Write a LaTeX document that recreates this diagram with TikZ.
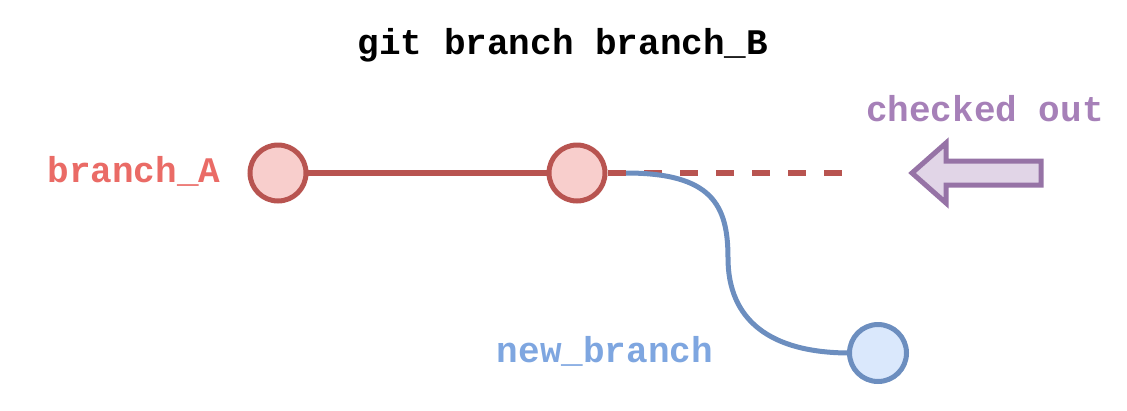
\documentclass[tikz,border=0pt]{standalone}
\usepackage{fontspec}
\setmonofont{Liberation Mono}
\definecolor{redS}{HTML}{B85450}
\definecolor{redF}{HTML}{F8CECC}
\definecolor{redT}{HTML}{EA6B66}
\definecolor{bluS}{HTML}{6C8EBF}
\definecolor{bluF}{HTML}{DAE8FC}
\definecolor{bluT}{HTML}{7EA6E0}
\definecolor{purS}{HTML}{9673A6}
\definecolor{purF}{HTML}{E1D5E7}
\definecolor{purT}{HTML}{A680B8}
\tikzset{
  lbl/.style={font=\ttfamily\bfseries\fontsize{36}{36}\selectfont, inner sep=0pt},
  commitR/.style={circle, draw=redS, fill=redF, line width=5pt, minimum size=56pt, inner sep=0pt},
  commitB/.style={circle, draw=bluS, fill=bluF, line width=5pt, minimum size=57pt, inner sep=0pt},
}
\begin{document}
\begin{tikzpicture}[x=1pt,y=-1pt]
\useasboundingbox (0,0) rectangle (1127,410);
\node[lbl] (title) at (563,45) {git branch branch\_B};
\node[lbl, text=redT] (la) at (134,171) {branch\_A};
\node[lbl, text=purT] (lc) at (985,109) {checked out};
\node[lbl, text=bluT] (lb) at (605,351) {new\_branch};
\coordinate (dstart) at (608,173);
\coordinate (dend) at (842,173);
\coordinate (bstart) at (626,173);
\draw[redS, line width=5.5pt] (278,173) -- (577,173);
\draw[redS, line width=5.5pt, dash pattern=on 18pt off 18pt] (dstart) -- (dend);
\draw[bluS, line width=5pt] (bstart) .. controls (712,173) and (728,205) .. (728,258)
  .. controls (728,320) and (770,353) .. (850,353);
\node[commitR] (c1) at (278,173) {};
\node[commitR] (c2) at (577,173) {};
\node[commitB] (c3) at (878,353) {};
\draw[purS, fill=purF, line width=5pt, line join=miter]
  (912,173) -- (946,143) -- (946,161) -- (1041,161) -- (1041,185) -- (946,185) -- (946,203) -- cycle;
\end{tikzpicture}
\end{document}
